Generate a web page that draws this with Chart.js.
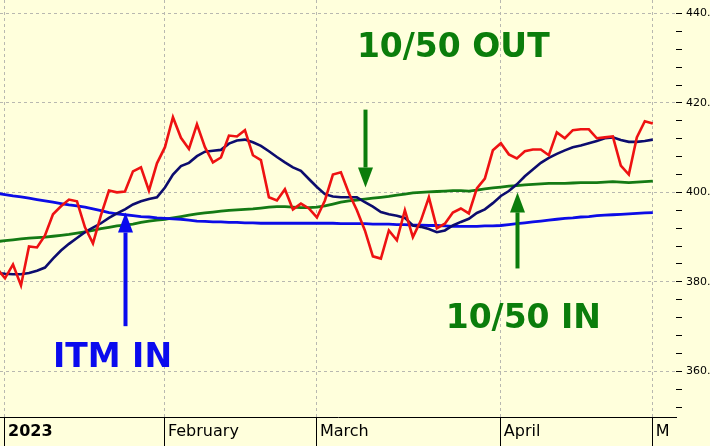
<!DOCTYPE html>
<html>
<head>
<meta charset="utf-8">
<script src="https://cdn.jsdelivr.net/npm/chart.js@4.4.0/dist/chart.umd.min.js"></script>
<style>
  html, body { margin: 0; padding: 0; background: #ffffdc; }
  #wrap { width: 710px; height: 446px; overflow: hidden; }
  canvas { display: block; }
</style>
</head>
<body>
<div id="wrap"><canvas id="priceChart" width="710" height="446"></canvas></div>
<script>
/* ============================================
   Price chart with 10 / 50 / 200 day averages
   ============================================ */

// trading day index of the first value in each series (one day before Jan 3)
const FIRST_DAY = -1;

// x axis: trading day where each month starts, and its label
const monthStarts = [0, 20, 39, 62, 81];
const monthLabels = ['2023', 'February', 'March', 'April', 'M'];

// y axis
const yMin = 349.8;
const yMax = 443.0;
const yStep = 4;
const yLabelStep = 20;

const closePrice = [
  383, 380.8, 383.9, 379.2, 387.9, 387.7, 390.4, 395.1, 396.9, 398.4,
  398.0, 392.2, 388.6, 394.9, 400.4, 400.0, 400.2, 404.7, 405.6, 400.4,
  406.5, 410.1, 416.8, 412.2, 409.7, 415.2, 410.1, 406.7, 407.8, 412.7,
  412.5, 413.9, 408.3, 407.2, 398.9, 398.2, 400.7, 396.2, 397.5, 396.4,
  394.4, 398.2, 404.0, 404.5, 399.8, 396.0, 391.5, 385.7, 385.2, 391.5,
  389.3, 396.0, 390.0, 393.7, 398.9, 392.0, 393.0, 395.5, 396.4, 395.3,
  400.9, 403.1, 409.4, 411.0, 408.5, 407.6, 409.2, 409.6, 409.6, 408.3,
  413.4, 412.1, 413.9, 414.1, 414.1, 412.1, 412.3, 412.5, 406.0, 404.0,
  412.3, 415.9, 415.4
];

const ma10 = [
  382, 381.8, 381.7, 381.7, 382, 382.5, 383.2, 385.2, 387, 388.5,
  389.8, 391.1, 392.1, 393.1, 394.3, 395.3, 396.2, 397.3, 398.0, 398.5,
  398.9, 401.1, 404, 405.9, 406.6, 408.1, 409.1, 409.3, 409.5, 410.9,
  411.6, 411.8, 411.2, 410.4, 409.2, 407.9, 406.7, 405.6, 404.8, 403,
  401.2, 399.6, 399.1, 398.9, 398.9, 398.9, 397.8, 396.8, 395.6, 395.1,
  394.8, 394.3, 392.6, 392.3, 391.8, 391.1, 391.5, 392.6, 393.4, 394.1,
  395.4, 396.2, 397.6, 399.2, 400.3, 401.8, 403.6, 405.1, 406.6, 407.7,
  408.6, 409.4, 410.1, 410.5, 411, 411.5, 412.1, 412.3, 411.7, 411.3,
  411.3, 411.5, 411.8
];

const ma50 = [
  389, 389.2, 389.4, 389.6, 389.8, 389.9, 390, 390.2, 390.4, 390.6,
  390.9, 391.2, 391.5, 391.9, 392.2, 392.5, 392.7, 392.9, 393.3, 393.6,
  393.8, 394, 394.3, 394.6, 394.9, 395.2, 395.4, 395.6, 395.8, 396,
  396.1, 396.2, 396.3, 396.5, 396.7, 396.8, 396.8, 396.7, 396.6, 396.6,
  396.7, 397, 397.4, 397.8, 398.1, 398.3, 398.5, 398.7, 398.9, 399.1,
  399.4, 399.6, 399.9, 400, 400.1, 400.2, 400.3, 400.4, 400.4, 400.3,
  400.5, 400.8, 401, 401.2, 401.4, 401.5, 401.7, 401.8, 401.9, 402,
  402, 402, 402.1, 402.2, 402.2, 402.2, 402.3, 402.4, 402.3, 402.2,
  402.3, 402.4, 402.5
];

const ma200 = [
  399.8, 399.5, 399.2, 399, 398.7, 398.4, 398.1, 397.8, 397.5, 397.2,
  397, 396.7, 396.3, 395.9, 395.5, 395.2, 395, 394.8, 394.6, 394.5,
  394.3, 394.2, 394.1, 394, 393.8, 393.6, 393.5, 393.4, 393.4, 393.3,
  393.3, 393.2, 393.2, 393.1, 393.1, 393.1, 393.1, 393.1, 393.1, 393.1,
  393.1, 393.1, 393.1, 393, 393, 393, 393, 392.9, 392.9, 392.9,
  392.8, 392.8, 392.7, 392.7, 392.6, 392.6, 392.5, 392.4, 392.4, 392.4,
  392.4, 392.5, 392.5, 392.6, 392.8, 393, 393.2, 393.4, 393.6, 393.8,
  394, 394.2, 394.3, 394.5, 394.6, 394.8, 394.9, 395, 395.1, 395.2,
  395.3, 395.4, 395.5
];

// signal arrows: trading day, tail value, tip value
const arrowDays = [15, 45, 64];
const arrowTails = [370.1, 418.5, 383.0];
const arrowTips = [395.5, 401.1, 400.0];

// signal captions: text, left trading day, baseline value
const captionTexts = ['ITM IN', '10/50 OUT', '10/50 IN'];
const captionDays = [6, 44, 55.1];
const captionValues = [360.9, 430.2, 369.6];

const BLUE = '#0a0aee';
const GREEN = '#0b7d0b';
const FONT = 'DejaVu Sans';

const toPoints = arr => arr.map((v, i) => ({ x: FIRST_DAY + i, y: v }));

// keep the plot flush with the canvas edges: no padding for half-labels
const noScalePadding = scale => {
  scale.paddingTop = 0;
  scale.paddingBottom = 0;
  scale.paddingLeft = 0;
  scale.paddingRight = 0;
};

const signalPlugin = {
  id: 'signals',
  afterDatasetsDraw(chart) {
    const { ctx, scales: { x, y } } = chart;
    const colors = [BLUE, GREEN, GREEN];
    ctx.save();

    arrowDays.forEach((day, i) => {
      const px = Math.round(x.getPixelForValue(day)) + 0.5;
      const tail = y.getPixelForValue(arrowTails[i]);
      const tip = y.getPixelForValue(arrowTips[i]);
      const dir = tip < tail ? 1 : -1;
      const base = tip + dir * 20;
      ctx.strokeStyle = colors[i];
      ctx.fillStyle = colors[i];
      ctx.lineWidth = 4;
      ctx.beginPath();
      ctx.moveTo(px, tail);
      ctx.lineTo(px, base);
      ctx.stroke();
      ctx.beginPath();
      ctx.moveTo(px, tip);
      ctx.lineTo(px - 7.5, base);
      ctx.lineTo(px + 7.5, base);
      ctx.closePath();
      ctx.fill();
    });

    ctx.font = `bold 33px "${FONT}"`;
    ctx.textAlign = 'left';
    ctx.textBaseline = 'alphabetic';
    captionTexts.forEach((text, i) => {
      ctx.fillStyle = colors[i];
      ctx.fillText(text, x.getPixelForValue(captionDays[i]), y.getPixelForValue(captionValues[i]));
    });

    ctx.restore();
  }
};

const line = (data, color, width) => ({
  data: toPoints(data),
  borderColor: color,
  borderWidth: width,
  pointRadius: 0,
  tension: 0,
  fill: false
});

new Chart(document.getElementById('priceChart'), {
  type: 'line',
  data: {
    datasets: [
      line(closePrice, '#ee1212', 2.6),
      line(ma10, '#0c0c6e', 2.6),
      line(ma200, '#0c0ce6', 2.8),
      line(ma50, '#147a14', 2.8)
    ]
  },
  options: {
    responsive: false,
    animation: false,
    events: [],
    layout: { padding: 0, autoPadding: false },
    plugins: { legend: { display: false }, tooltip: { enabled: false } },
    scales: {
      x: {
        type: 'linear',
        min: -0.625,
        max: 83.9,
        afterBuildTicks: scale => { scale.ticks = monthStarts.map(v => ({ value: v })); },
        afterFit: scale => { scale.height = 29; noScalePadding(scale); },
        grid: {
          color: '#b8b8b0',
          tickColor: '#000',
          tickLength: 29,
          tickBorderDash: [],
          tickWidth: 1
        },
        border: { display: true, color: '#000', width: 1, dash: [3, 3] },
        ticks: {
          autoSkip: false,
          maxRotation: 0,
          minRotation: 0,
          align: 'start',
          labelOffset: 3,
          padding: -24,
          color: '#000',
          font: ctx => ({ family: FONT, size: 16, weight: ctx.index === 0 ? 'bold' : 'normal' }),
          callback: (value, index) => monthLabels[index]
        }
      },
      y: {
        position: 'right',
        min: yMin,
        max: yMax,
        afterBuildTicks: scale => {
          const ticks = [];
          for (let v = Math.ceil(yMin / yStep) * yStep; v <= yMax; v += yStep) ticks.push({ value: v });
          scale.ticks = ticks;
        },
        afterFit: scale => { scale.width = 34; noScalePadding(scale); },
        grid: {
          color: ctx => (ctx.tick && ctx.tick.value % yLabelStep === 0 ? '#b8b8b0' : 'rgba(0,0,0,0)'),
          tickColor: '#000',
          tickLength: 6,
          tickBorderDash: []
        },
        border: { display: false, dash: [3, 3] },
        ticks: {
          padding: 4,
          color: '#000',
          font: { family: FONT, size: 11 },
          callback: v => (v % yLabelStep === 0 ? v.toFixed(1) : '')
        }
      }
    }
  },
  plugins: [signalPlugin]
});
</script>
</body>
</html>
